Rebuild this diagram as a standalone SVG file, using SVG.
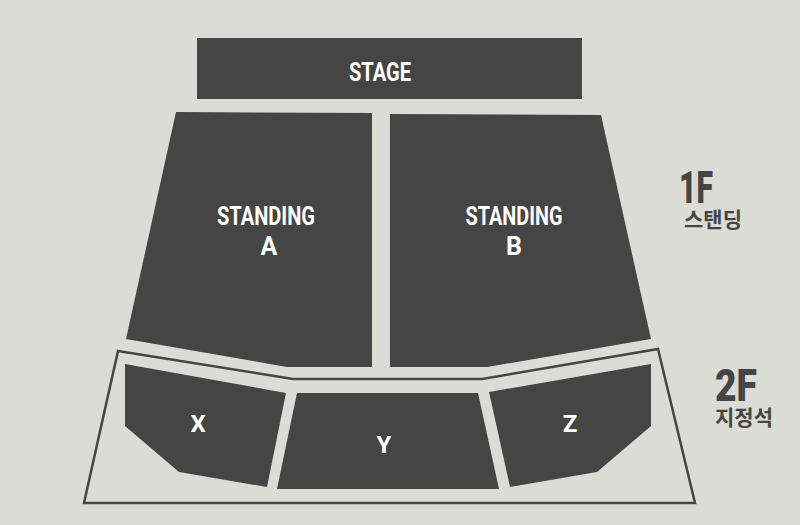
<svg xmlns="http://www.w3.org/2000/svg" width="800" height="525" viewBox="0 0 800 525">
<style>
.blk{fill:#454545}
.lbl{font-family:"Roboto","Liberation Sans",sans-serif;font-weight:bold;fill:#ffffff;text-anchor:middle}
.side{font-family:"Roboto","Liberation Sans",sans-serif;font-weight:900;fill:#454545;text-anchor:middle}
.kr{font-family:"Noto Sans CJK KR",sans-serif;font-weight:bold;fill:#454545;text-anchor:middle}
</style>
<rect width="800" height="525" fill="#dcdcd6"/>
<g id="stage">
<rect class="blk" x="197" y="38" width="385" height="61"/>
<text class="lbl" x="380" y="81" font-size="25" textLength="62" lengthAdjust="spacingAndGlyphs">STAGE</text>
</g>
<g id="standing-a">
<polygon class="blk" points="176,112 372,113 372,367 287,367 126,339"/>
<text class="lbl" x="266" y="225" font-size="25" textLength="98" lengthAdjust="spacingAndGlyphs">STANDING</text>
<text class="lbl" x="269" y="255" font-size="25">A</text>
</g>
<g id="standing-b">
<polygon class="blk" points="390,114 601,115 651,339 487,367 390,367"/>
<text class="lbl" x="514" y="225" font-size="25" textLength="97" lengthAdjust="spacingAndGlyphs">STANDING</text>
<text class="lbl" x="514" y="255" font-size="25">B</text>
</g>
<g id="floor2">
<polygon points="118,351 293,379 482,379 658,349 695,503 84,503" fill="none" stroke="#454545" stroke-width="2.5"/>
</g>
<g id="x">
<polygon class="blk" points="125,364 286,393 267,487 179,472 125,426"/>
<text class="lbl" x="198" y="432" font-size="24">X</text>
</g>
<g id="y">
<polygon class="blk" points="297,393 478,393 499,489 277,489"/>
<text class="lbl" x="384" y="453" font-size="24">Y</text>
</g>
<g id="z">
<polygon class="blk" points="489,392 651,364 651,426 597,472 510,487"/>
<text class="lbl" x="570" y="432" font-size="24">Z</text>
</g>
<g id="label-1f">
<text class="side" x="696" y="203" font-size="45" textLength="34" lengthAdjust="spacingAndGlyphs">1F</text>
<text class="kr" x="713" y="227" font-size="21">스탠딩</text>
</g>
<g id="label-2f">
<text class="side" x="736" y="401" font-size="45" textLength="42" lengthAdjust="spacingAndGlyphs">2F</text>
<text class="kr" x="744" y="425" font-size="21">지정석</text>
</g>
<g id="connectors"/>
</svg>
